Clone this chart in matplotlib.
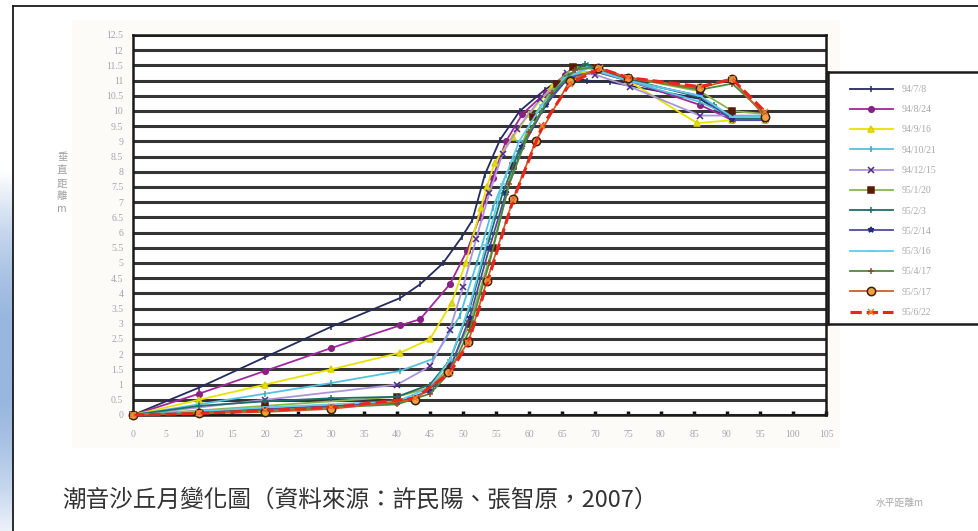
import numpy as np
import matplotlib
matplotlib.use("Agg")
import matplotlib.pyplot as plt
from matplotlib.patches import Rectangle
from matplotlib.lines import Line2D
from matplotlib.colors import LinearSegmentedColormap

plt.rcParams['font.family'] = ['Noto Sans CJK TC', 'DejaVu Sans']

# Survey dates (ROC calendar)
dates = ["94/7/8", "94/8/24", "94/9/16", "94/10/21", "94/12/15", "95/1/20",
         "95/2/3", "95/2/14", "95/3/16", "95/4/17", "95/5/17", "95/6/22"]

# Horizontal distance (m) / vertical distance (m) for each survey
x_0708 = [0, 10, 20, 30, 40.5, 43.5, 47, 49.8, 51.4, 53.3, 55.6, 58.6, 62.4, 65.5, 68.8, 72.3, 85.9, 90.8, 95.8]
y_0708 = [0, 0.9, 1.9, 2.9, 3.85, 4.3, 5.0, 5.85, 6.4, 7.9, 9.05, 10.0, 10.7, 11.15, 11.0, 10.95, 10.4, 9.7, 9.7]

x_0824 = [0, 10, 20, 30, 40.5, 43.5, 48, 50.6, 52.5, 54.5, 56.5, 59, 62.5, 65.5, 70, 75, 85.9, 90.8, 95.8]
y_0824 = [0, 0.7, 1.45, 2.2, 2.95, 3.15, 4.3, 5.4, 6.5, 7.8, 9.0, 9.9, 10.6, 11.2, 11.3, 11.0, 10.2, 9.7, 9.7]

x_0916 = [0, 10, 20, 30, 40.5, 45, 48.3, 50.4, 52.7, 53.6, 54.8, 57.6, 60, 63.5, 66, 70, 75, 85.5, 90.8, 95.8]
y_0916 = [0, 0.5, 1.0, 1.5, 2.05, 2.5, 3.7, 5.0, 6.8, 7.5, 8.3, 9.15, 9.9, 10.8, 11.2, 11.3, 11.0, 9.6, 9.7, 9.7]

x_1021 = [0, 10, 20, 30, 40.5, 45.5, 49.5, 52.1, 54.5, 56.5, 59.7, 62.5, 65.5, 69, 75, 85.9, 90.8, 95.8]
y_1021 = [0, 0.35, 0.7, 1.05, 1.45, 1.85, 3.25, 5.0, 6.8, 7.9, 9.2, 10.2, 11.0, 11.5, 11.0, 10.3, 9.8, 9.8]

x_1215 = [0, 20, 40, 45, 48, 50, 52, 54, 56, 58.2, 61.7, 64.2, 65.8, 70, 75.3, 85.9, 90.8, 95.8]
y_1215 = [0, 0.5, 1.0, 1.6, 2.8, 4.2, 5.8, 7.3, 8.6, 9.4, 10.4, 10.85, 11.25, 11.2, 10.8, 9.85, 9.85, 9.85]

x_0120 = [0, 20, 40, 45, 48, 51, 54.5, 57.6, 60.6, 64.2, 66.7, 70, 75, 85.9, 90.8, 95.8]
y_0120 = [0, 0.3, 0.6, 0.9, 1.6, 3.0, 5.5, 8.2, 9.8, 10.9, 11.45, 11.4, 11.1, 10.65, 10.0, 9.9]

x_0203 = [0, 10, 20, 30, 40, 45, 48, 51, 54, 56, 58.5, 62, 65.5, 68.5, 75, 85.9, 88, 90.8, 95.8]
y_0203 = [0, 0.3, 0.45, 0.55, 0.6, 1.0, 1.8, 3.5, 5.8, 7.3, 8.7, 10.0, 11.1, 11.55, 11.05, 10.45, 10.2, 9.75, 9.75]

x_0214 = [0, 20, 40, 45, 48, 51, 54, 56.5, 59, 62.5, 66, 70, 75, 85.9, 90.8, 95.8]
y_0214 = [0, 0.2, 0.4, 0.8, 1.5, 3.2, 5.5, 7.3, 8.8, 10.2, 11.1, 11.3, 11.0, 10.5, 9.7, 9.7]

x_0316 = [0, 20, 40, 45, 48, 51, 53.5, 56, 58.5, 62, 65.5, 69, 75, 85.9, 90.8, 95.8]
y_0316 = [0, 0.25, 0.45, 0.9, 1.8, 3.6, 5.6, 7.6, 9.0, 10.2, 11.1, 11.4, 11.0, 10.5, 9.8, 9.8]

x_0417 = [0, 20, 40, 45, 48, 51, 54, 57, 60, 63.5, 67, 70, 75, 85.9, 90.8, 95.8]
y_0417 = [0, 0.15, 0.35, 0.7, 1.4, 2.8, 5.0, 7.6, 9.3, 10.6, 11.35, 11.45, 11.1, 10.7, 10.9, 9.9]

x_0517 = [0, 10, 20, 30, 42.7, 47.7, 50.8, 53.6, 57.6, 61, 66.2, 70.5, 75, 85.9, 90.8, 95.8]
y_0517 = [0, 0.05, 0.1, 0.2, 0.5, 1.4, 2.4, 4.4, 7.1, 9.0, 11.0, 11.4, 11.1, 10.75, 11.05, 9.8]

x_0622 = [0, 10, 20, 30, 42.7, 48, 50.8, 53.8, 57.6, 62, 66.2, 70.8, 75, 85.9, 90.8, 95.8]
y_0622 = [0, 0.05, 0.15, 0.25, 0.55, 1.38, 2.37, 4.44, 7.07, 9.5, 10.9, 11.4, 11.1, 10.8, 11.05, 9.97]

series_x = [x_0708, x_0824, x_0916, x_1021, x_1215, x_0120,
            x_0203, x_0214, x_0316, x_0417, x_0517, x_0622]
series_y = [y_0708, y_0824, y_0916, y_1021, y_1215, y_0120,
            y_0203, y_0214, y_0316, y_0417, y_0517, y_0622]

x_ticks = list(range(0, 106, 5))
y_ticks = [i * 0.5 for i in range(26)]

# line colour, marker, marker face, marker edge, line style, marker size
styles = [
    ("#252b5e", "|", "#252b5e", "#252b5e", "-", 4),
    ("#a3279c", "o", "#8a1f86", "#8a1f86", "-", 4),
    ("#e8e200", "^", "#e8e200", "#d8d000", "-", 4),
    ("#56c1dc", "|", "#56c1dc", "#3aa0c0", "-", 4),
    ("#ab94dc", "x", "#4e2a86", "#4e2a86", "-", 4),
    ("#8cb44e", "s", "#5a1a0a", "#5a1a0a", "-", 4.5),
    ("#1f6e6a", "+", "#1f6e6a", "#1f6e6a", "-", 4),
    ("#4b4ba2", "*", "#2a2a80", "#2a2a80", "-", 4),
    ("#60cbe8", "_", "#60cbe8", "#60cbe8", "-", 4),
    ("#4f8a38", "+", "#8a4a2a", "#8a4a2a", "-", 4),
    ("#c8602a", "o", "#f4a040", "#3a2010", "-", 6),
    ("#e8261a", "x", "#f08030", "#f08030", "--", 4),
]

W, H = 979, 531
fig = plt.figure(figsize=(W / 100, H / 100), dpi=100)
fig.patch.set_facecolor("white")


def fx(px):
    return px / W


def fy(py):
    return 1 - py / H


# faint chart-area background
bg = fig.add_axes([fx(72), fy(448), fx(840) - fx(72), fy(20) - fy(448)], zorder=0)
bg.set_axis_off()
bg.add_patch(Rectangle((0, 0), 1, 1, transform=bg.transAxes, facecolor="#fcfbf7",
                       edgecolor="none"))

# blue strip at the left edge
strip = fig.add_axes([0, 0, fx(12.5), fy(170)], zorder=0)
grad = np.linspace(0, 1, 256)[:, None]
grad = np.clip(np.sin(grad * np.pi * 0.95) * 1.05, 0, 1)
cmap = LinearSegmentedColormap.from_list("edge", ["#ffffff", "#c7d8ee", "#98b6de"])
strip.imshow(grad, aspect="auto", cmap=cmap, extent=[0, 1, 0, 1])
strip.set_axis_off()

# outer frame (top and left edges)
fig.lines.append(Line2D([fx(13), 1.0], [fy(6), fy(6)], transform=fig.transFigure,
                        color="#1a1a1a", lw=1.3))
fig.lines.append(Line2D([fx(13), fx(13)], [fy(6), 0.0], transform=fig.transFigure,
                        color="#1a1a1a", lw=1.3))

ax = fig.add_axes([fx(133), fy(415), fx(826) - fx(133), fy(35) - fy(415)], zorder=2)
ax.set_facecolor("white")
ax.set_xlim(0, 105)
ax.set_ylim(0, 12.5)
ax.set_xticks(x_ticks)
ax.set_xticklabels([str(v) for v in x_ticks])
ax.set_yticks(y_ticks)
ax.set_yticklabels(["%g" % v for v in y_ticks])
for lab in ax.get_xticklabels() + ax.get_yticklabels():
    lab.set_fontfamily("Liberation Serif")
    lab.set_fontsize(7)
    lab.set_color("#a5a5a5")
ax.tick_params(axis="x", direction="in", length=3, width=2.5, color="#111111", pad=11)
ax.tick_params(axis="y", direction="out", length=0, pad=7)
ax.yaxis.grid(True, color="#353535", lw=2.2)
ax.set_axisbelow(True)
for sp in ax.spines.values():
    sp.set_color("#1a1a1a")
    sp.set_linewidth(1.8)

handles = []
for (xs, ys), (col, mk, mfc, mec, ls, ms), lab in zip(zip(series_x, series_y), styles, dates):
    lw = 2.2 if ls == "--" else 1.3
    h, = ax.plot(xs, ys, color=col, lw=lw, ls=ls, marker=mk, ms=ms,
                 markerfacecolor=mfc, markeredgecolor=mec, markeredgewidth=1.1,
                 label=lab, clip_on=False, zorder=3)
    handles.append(h)

# legend box
legax = fig.add_axes([fx(828), fy(324), 1.0 - fx(828) + 0.01, fy(72) - fy(324)], zorder=4)
legax.set_xticks([])
legax.set_yticks([])
legax.set_facecolor("white")
for sp in legax.spines.values():
    sp.set_color("#1a1a1a")
    sp.set_linewidth(1.8)
leg = legax.legend(handles=handles, labels=dates, loc="upper left",
                   bbox_to_anchor=(fx(848), fy(83)), bbox_transform=fig.transFigure,
                   frameon=False, fontsize=7, labelspacing=1.16, handlelength=4.4,
                   handletextpad=0.9, borderaxespad=0, borderpad=0.2)
for t in leg.get_texts():
    t.set_color("#a8a8a8")
    t.set_fontfamily("Liberation Serif")

# axis titles
fig.text(fx(62), fy(183), "垂\n直\n距\n離\nm", ha="center", va="center",
         fontsize=7.5, color="#a0a0a0", linespacing=1.35)
fig.text(fx(900), fy(503), "水平距離m", ha="center", va="center",
         fontsize=7, color="#a8a8a8")

# caption
fig.text(fx(62), fy(500), "潮音沙丘月變化圖（資料來源：許民陽、張智原，2007）",
         ha="left", va="center", fontsize=17, color="#333333")

fig.savefig("out.png", dpi=100)
